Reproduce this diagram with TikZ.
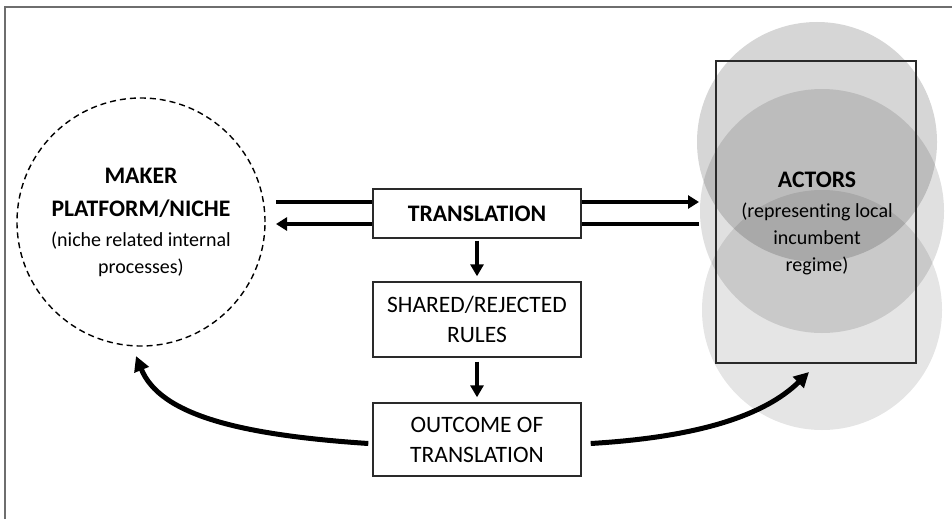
\documentclass[tikz,border=0pt]{standalone}
\usepackage{fontspec}
\setmainfont{Carlito}[Ligatures=NoCommon]
\usetikzlibrary{arrows.meta}
\definecolor{framegray}{HTML}{6E6E6E}
\definecolor{boxline}{HTML}{2A2A2A}
\newcommand{\headfont}{\fontsize{23.7}{31}\selectfont\bfseries}
\newcommand{\parfont}{\fontsize{20}{27}\selectfont}
\tikzset{
  procbox/.style={draw=boxline, line width=1.4pt, fill=white, minimum width=208pt, align=center, inner sep=0pt},
  boxtxt/.style={font=\fontsize{23.5}{30}\selectfont},
  harrow/.style={line width=4pt, -{Triangle[length=11pt,width=13pt]}},
  varrow/.style={line width=3.2pt, -{Triangle[length=12pt,width=13pt]}},
  carrow/.style={line width=5pt, -{Triangle[length=15pt,width=15pt]}},
  blob/.style={circle, fill=black, inner sep=0pt}
}
\begin{document}
\begin{tikzpicture}[x=1pt,y=-1pt]
\useasboundingbox (0,0) rectangle (952,519);
% frame
\draw[framegray, line width=2pt] (5,519) -- (5,7) -- (952,7);
% overlapping circles (regime)
\node[blob, minimum size=240pt, opacity=0.16] (c1) at (817,142) {};
\node[blob, minimum size=244pt, opacity=0.12] (c2) at (822,211) {};
\node[blob, minimum size=240pt, opacity=0.10] (c3) at (822,310) {};
% actors rectangle
\node[draw=boxline, line width=1.4pt, minimum width=200pt, minimum height=302pt, inner sep=0pt] (actors) at (816,212) {};
\node[align=center, font=\parfont] (actorslabel) at (817,223) {{\headfont ACTORS}\\[3pt](representing local\\incumbent\\regime)};
% niche circle
\node[circle, draw=black, dashed, dash pattern=on 6pt off 4pt, line width=1.4pt, minimum size=248pt, align=center, font=\parfont] (maker) at (141,222) {{\headfont MAKER}\\[6pt]{\headfont PLATFORM/NICHE}\\[3pt](niche related internal\\processes)};
% coordinates for horizontal arrows
\coordinate (tl) at (276,202);
\coordinate (tr) at (699,202);
\coordinate (bl) at (276,224);
\coordinate (br) at (699,224);
\draw[harrow] (tl) -- (tr);
\draw[harrow] (br) -- (bl);
% boxes
\node[procbox, minimum height=49pt, font=\headfont] (trans) at (477,213.5) {TRANSLATION};
\node[procbox, minimum height=75pt, boxtxt] (rules) at (477,319.5) {SHARED/REJECTED\\RULES};
\node[procbox, minimum height=73pt, boxtxt] (outc) at (477,439.5) {OUTCOME OF\\TRANSLATION};
% vertical arrows
\draw[varrow] ([yshift=-2pt]trans.south) -- ([yshift=5pt]rules.north);
\draw[varrow] ([yshift=-4pt]rules.south) -- ([yshift=5pt]outc.north);
% curved arrows
\coordinate (lt) at (136,356);
\coordinate (rt) at (809,372);
\draw[carrow] ([xshift=-4pt,yshift=-4pt]outc.west) .. controls (240,435) and (160,415) .. (lt);
\draw[carrow] ([xshift=9pt,yshift=-4pt]outc.east) .. controls (700,437) and (765,415) .. (rt);
\end{tikzpicture}
\end{document}
